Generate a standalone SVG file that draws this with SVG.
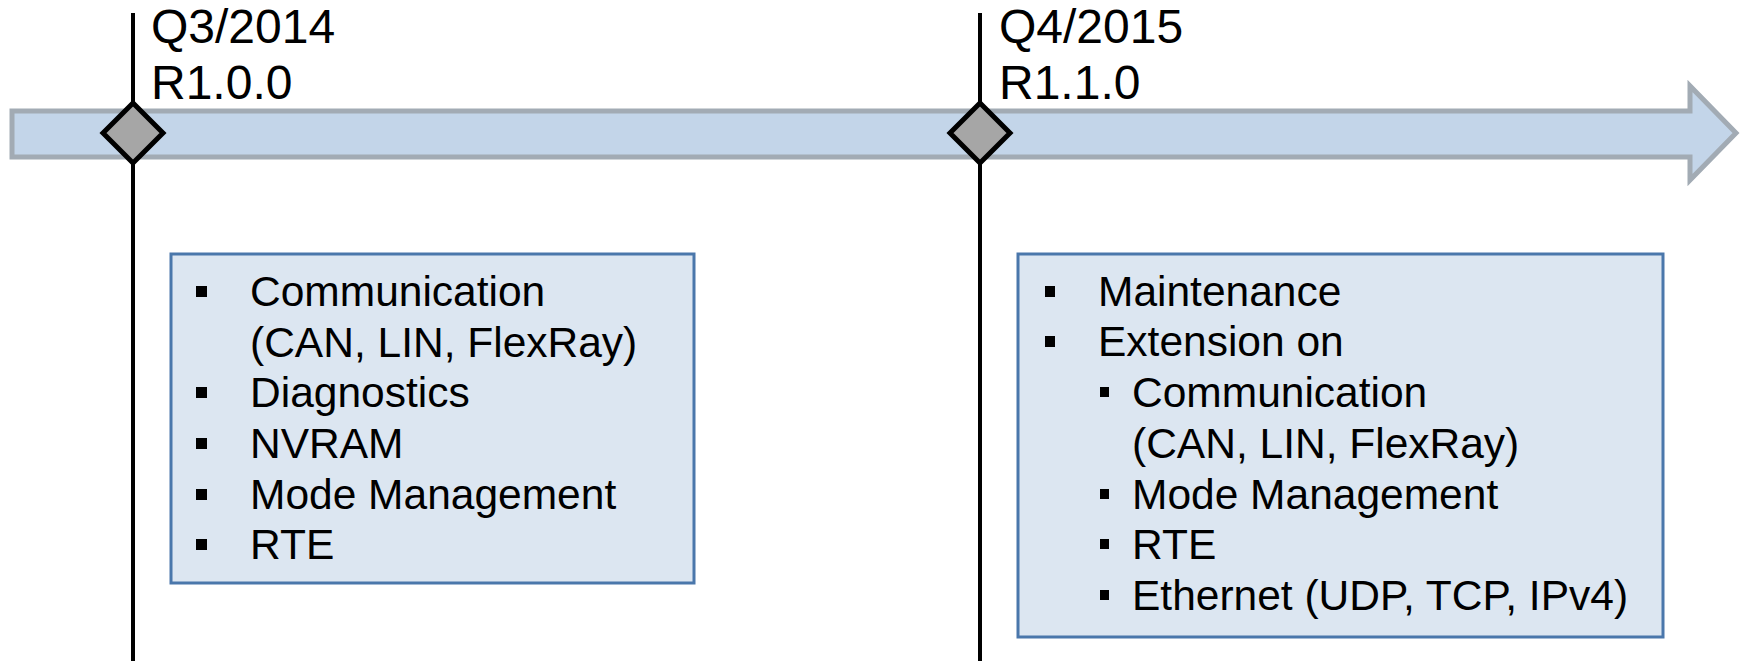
<svg xmlns="http://www.w3.org/2000/svg" width="1743" height="661" viewBox="0 0 1743 661">
<style>
text{font-family:"Liberation Sans",Arial,sans-serif;fill:#000}
.lbl{font-size:48px}
.it{font-size:42.5px}
.vline{stroke:#000;stroke-width:4;fill:none}
.ms{fill:#A6A6A6;stroke:#000;stroke-width:5;stroke-linejoin:miter}
.box{fill:#DCE6F1;stroke:#4A77AB;stroke-width:3}
.b{fill:#000}
</style>
<rect width="1743" height="661" fill="#fff"/>
<g id="connectors">
<line class="vline" x1="133" y1="13" x2="133" y2="661"/>
<line class="vline" x1="980" y1="13" x2="980" y2="661"/>
</g>
<g id="timeline">
<path d="M12,111 L1690,111 L1690,86 L1736,133 L1690,180 L1690,157 L12,157 Z" fill="#C3D5E9" stroke="#A2ABB4" stroke-width="5"/>
</g>
<g id="milestone1">
<path class="ms" d="M133,103 L163,133 L133,163 L103,133 Z"/>
<text class="lbl" x="151" y="43">Q3/2014</text>
<text class="lbl" x="151" y="99">R1.0.0</text>
</g>
<g id="milestone2">
<path class="ms" d="M980,103 L1010,133 L980,163 L950,133 Z"/>
<text class="lbl" x="999" y="43">Q4/2015</text>
<text class="lbl" x="999" y="99">R1.1.0</text>
</g>
<g id="box1">
<rect class="box" x="171" y="254" width="523" height="329"/>
<rect class="b" x="196" y="286" width="11" height="11"/>
<rect class="b" x="196" y="387" width="11" height="11"/>
<rect class="b" x="196" y="438" width="11" height="11"/>
<rect class="b" x="196" y="489" width="11" height="11"/>
<rect class="b" x="196" y="539" width="11" height="11"/>
<text class="it" x="250" y="306">Communication</text>
<text class="it" x="250" y="357">(CAN, LIN, FlexRay)</text>
<text class="it" x="250" y="407">Diagnostics</text>
<text class="it" x="250" y="458">NVRAM</text>
<text class="it" x="250" y="509">Mode Management</text>
<text class="it" x="250" y="559">RTE</text>
</g>
<g id="box2">
<rect class="box" x="1018" y="254" width="645" height="383"/>
<rect class="b" x="1045" y="286" width="10" height="11"/>
<rect class="b" x="1045" y="336" width="10" height="11"/>
<rect class="b" x="1100" y="387" width="9" height="10"/>
<rect class="b" x="1100" y="489" width="9" height="10"/>
<rect class="b" x="1100" y="539" width="9" height="10"/>
<rect class="b" x="1100" y="590" width="9" height="10"/>
<text class="it" x="1098" y="306">Maintenance</text>
<text class="it" x="1098" y="356">Extension on</text>
<text class="it" x="1132" y="407">Communication</text>
<text class="it" x="1132" y="458">(CAN, LIN, FlexRay)</text>
<text class="it" x="1132" y="509">Mode Management</text>
<text class="it" x="1132" y="559">RTE</text>
<text class="it" x="1132" y="610">Ethernet (UDP, TCP, IPv4)</text>
</g>
</svg>
